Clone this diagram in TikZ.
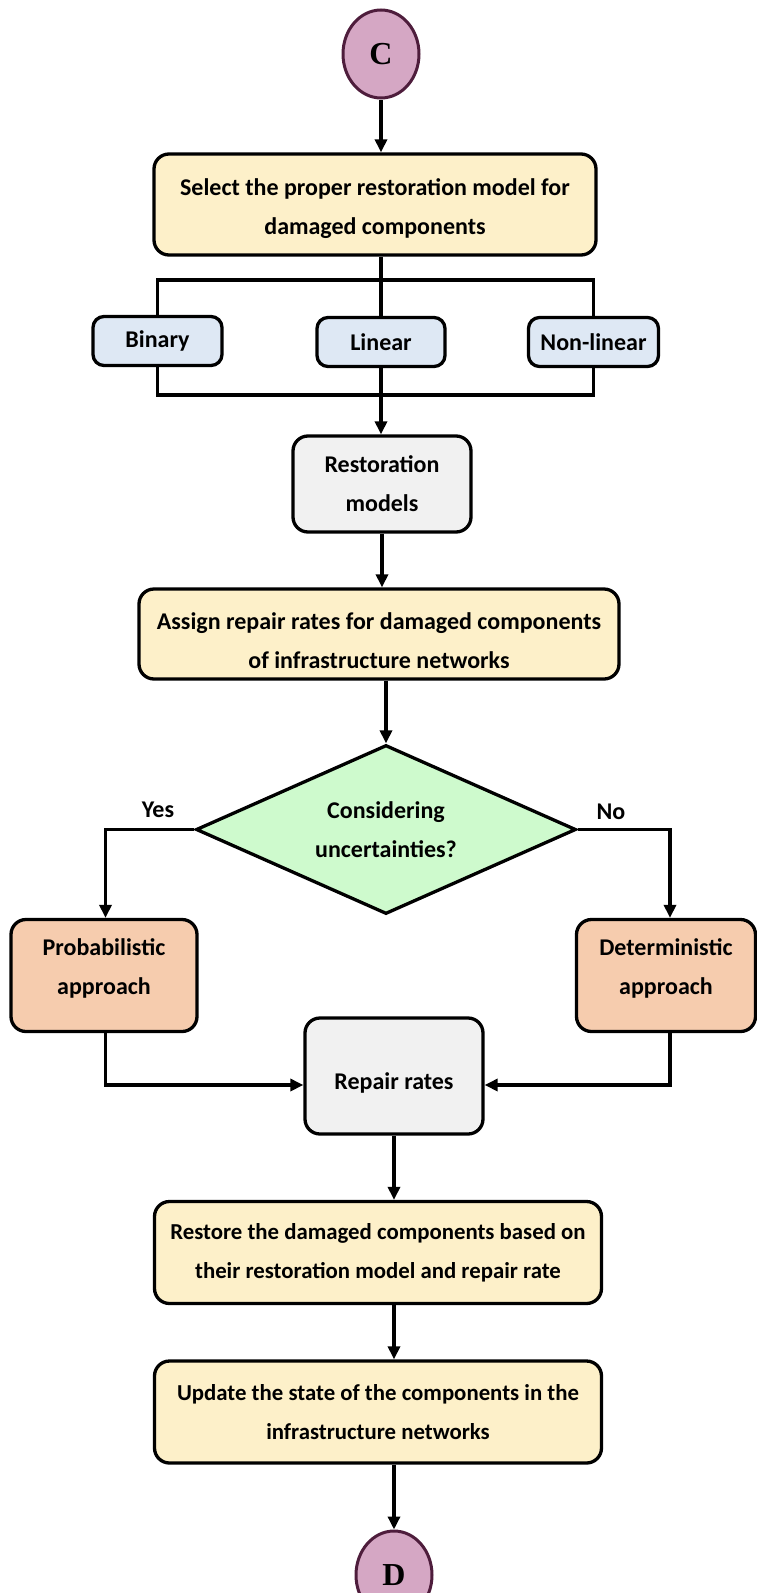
\documentclass[tikz,border=0pt]{standalone}
\usepackage{fontspec}
\usetikzlibrary{shapes.geometric,arrows.meta,calc}
\newfontfamily\boxfont{Carlito}
\newfontfamily\markfont{Liberation Serif}
\definecolor{termfill}{HTML}{D5A7C4}
\definecolor{termedge}{HTML}{4E1D3C}
\definecolor{stepfill}{HTML}{FDF0C9}
\definecolor{modelfill}{HTML}{DEE8F4}
\definecolor{greyfill}{HTML}{F1F1F1}
\definecolor{askfill}{HTML}{CEFACD}
\definecolor{wayfill}{HTML}{F6CCAE}
\tikzset{
  txt/.style={font=\boxfont\bfseries\fontsize{24}{39}\selectfont},
  smalltxt/.style={font=\boxfont\bfseries\fontsize{22.8}{39}\selectfont},
  box/.style={txt, draw=black, line width=3.3pt, rounded corners=15pt,
    align=center, inner sep=0pt},
  stepbox/.style={box, fill=stepfill},
  modelbox/.style={box, fill=modelfill, rounded corners=11pt},
  greybox/.style={box, fill=greyfill},
  waybox/.style={box, fill=wayfill},
  askbox/.style={diamond, draw=black, line width=3.3pt, fill=askfill,
    inner sep=0pt},
  term/.style={ellipse, draw=termedge, line width=3pt, fill=termfill,
    minimum width=76pt, minimum height=88pt, inner sep=0pt,
    font=\markfont\bfseries\fontsize{32}{32}\selectfont},
  link/.style={draw=black, line width=3.3pt},
  arr/.style={link, -{Triangle[width=12pt,length=13pt]}},
}
\begin{document}
\begin{tikzpicture}[x=1pt,y=-1pt]
\useasboundingbox (0,0) rectangle (756,1593);

% terminals and process steps
\node[term] (C) at (381,54) {C};
\node[stepbox, minimum width=442pt, minimum height=101pt] (sel) at (375,204.5) {};
\node[txt, align=center, yshift=-4pt] (selt) at (sel.center)
  {Select the proper restoration model for\\damaged components};
\node[modelbox, minimum width=129pt, minimum height=49pt] (bin) at (157.5,341) {Binary};
\node[modelbox, minimum width=128pt, minimum height=49pt] (lin) at (381,342) {Linear};
\node[modelbox, minimum width=130pt, minimum height=49pt] (nl) at (593.5,342) {Non-linear};
\node[greybox, minimum width=178pt, minimum height=96pt] (rm) at (382,484)
  {Restoration\\models};
\node[stepbox, minimum width=480pt, minimum height=90pt] (asg) at (379,634) {};
\node[txt, align=center, yshift=-7pt] (asgt) at (asg.center)
  {Assign repair rates for damaged components\\of infrastructure networks};
\node[askbox, minimum width=380pt, minimum height=169pt] (q) at (386,829.5) {};
\node[txt, align=center] (qt) at (q.center) {Considering\\uncertainties?};
\node[waybox, minimum width=186pt, minimum height=112pt] (prob) at (104,975.5) {};
\node[txt, align=center, yshift=7pt] (probt) at (prob.center) {Probabilistic\\approach};
\node[waybox, minimum width=179pt, minimum height=112pt] (det) at (666,975.5) {};
\node[txt, align=center, yshift=7pt] (dett) at (det.center) {Deterministic\\approach};
\node[greybox, minimum width=178pt, minimum height=116pt] (rep) at (394,1076) {};
\node[txt, yshift=-7pt] (rept) at (rep.center) {Repair rates};
\node[stepbox, smalltxt, minimum width=447pt, minimum height=102pt] (rst) at (378,1252.5)
  {Restore the damaged components based on\\their restoration model and repair rate};
\node[stepbox, smalltxt, minimum width=447pt, minimum height=102pt] (upd) at (378,1412)
  {Update the state of the components in the\\infrastructure networks};
\node[term] (D) at (394,1575) {D};

% branch labels
\node[txt] (yes) at (158,810) {Yes};
\node[txt] (no) at (611,812) {No};

% bus lines around the restoration model types
\coordinate (bt) at (381,280);
\coordinate (bb) at (381,395);
\draw[link] (sel.south -| bt) -- (bt);
\draw[link] (bin.north) |- (bt) -| (nl.north);
\draw[link] (lin.north) -- (lin.north |- bt);
\draw[link] (bin.south) |- (bb) -| (nl.south);
\draw[arr] (lin.south) -- (lin.south |- rm.north);

% main flow
\coordinate (ra) at (394,1085);
\draw[arr] (C.south) -- (C.south |- sel.north);
\draw[arr] (rm.south) -- (rm.south |- asg.north);
\draw[arr] (q.north |- asg.south) -- (q.north);
\draw[arr] (q.west) -| ([xshift=1.5pt]prob.north);
\draw[arr] (q.east) -| ([xshift=4pt]det.north);
\draw[arr] ([xshift=1.5pt]prob.south) |- (ra -| rep.west);
\draw[arr] ([xshift=4pt]det.south) |- (ra -| rep.east);
\draw[arr] (rep.south) -- (rep.south |- rst.north);
\draw[arr] (rst.south -| D.north) -- (D.north |- upd.north);
\draw[arr] (upd.south -| D.north) -- (D.north);
\end{tikzpicture}
\end{document}
